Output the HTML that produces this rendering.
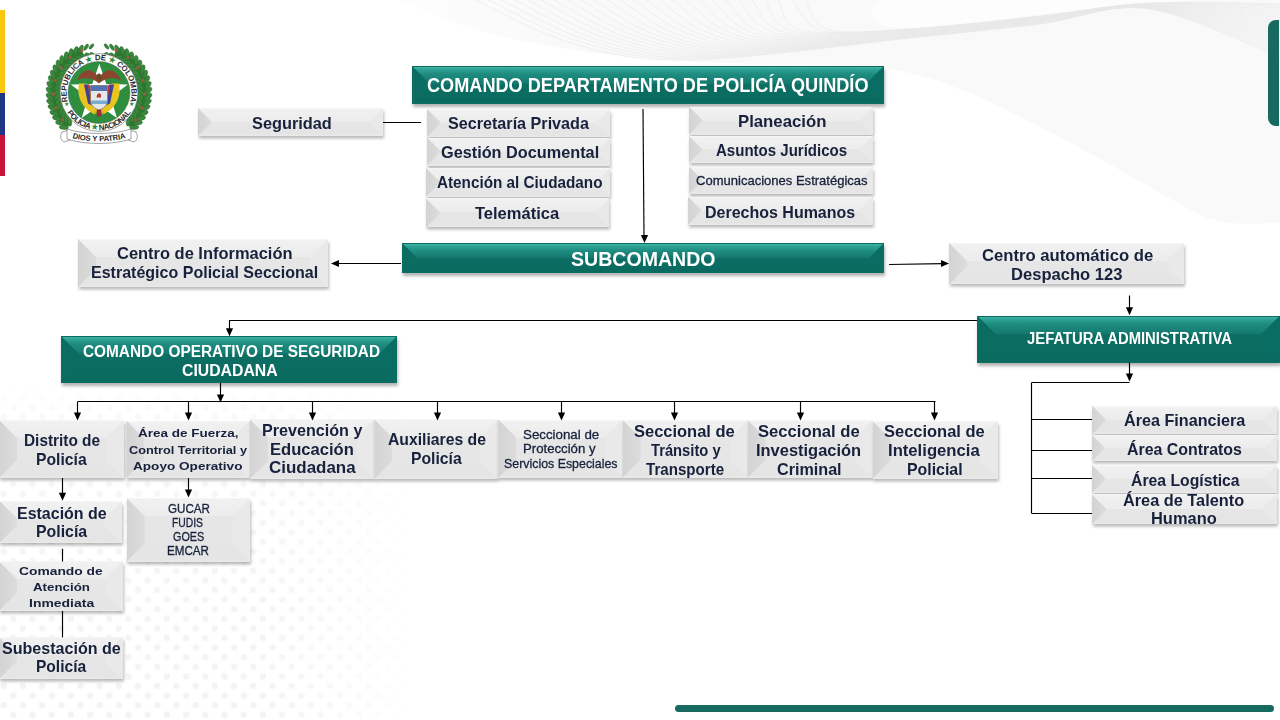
<!DOCTYPE html>
<html><head><meta charset="utf-8"><style>
*{margin:0;padding:0;box-sizing:border-box}
html,body{width:1280px;height:720px;overflow:hidden;background:#fff}
body{position:relative;font-family:"Liberation Sans",sans-serif}
.bx{position:absolute}
.tx{position:absolute;white-space:nowrap;transform-origin:0 0;z-index:4}
.bx::before,.bx::after{content:"";position:absolute;top:0;bottom:0;width:var(--b)}
.bx::before{left:0;clip-path:polygon(0 0,100% var(--b),100% calc(100% - var(--b)),0 100%)}
.bx::after{right:0;clip-path:polygon(100% 0,0 var(--b),0 calc(100% - var(--b)),100% 100%)}
.g{background:linear-gradient(to bottom,#f8f8f8 0,#f1f1f1 1.5px,#ececec var(--b),#e6e6e6 var(--b),#e5e5e5 calc(100% - 2px),#ebebeb 100%);
 box-shadow:1px 2.5px 3px rgba(0,0,0,.28)}
.g::before{background:linear-gradient(to right,#d3d3d3,#dcdcdc)}
.g::after{background:#e9e9e9}
.t{background:linear-gradient(to bottom,#0f6a60 0,#0f6a60 1px,#3bb5a7 1px,#2ea194 3.5px,#1f8c80 8px,#14796e var(--b),#0d6e64 var(--b),#096a60 calc(100% - 2px),#0d6e64 100%);
 box-shadow:1px 3px 3px rgba(0,0,0,.3)}
.t::before{background:#0b6c62}
.t::after{background:#0a6d63}
#lines{position:absolute;left:0;top:0;z-index:3}
#lines line{stroke:#000;stroke-width:1.15}
#lines polygon{fill:#000}
.flag{position:absolute;left:0;width:4.8px}
</style></head><body>
<svg style="position:absolute;left:0;top:0" width="1280" height="720" viewBox="0 0 1280 720">
<defs><pattern id="dots" x="0" y="0" width="19.2" height="19.2" patternUnits="userSpaceOnUse"><circle cx="3.7" cy="14" r="3.2" fill="#f3f3f3"/><circle cx="13.3" cy="4.4" r="3.2" fill="#f3f3f3"/></pattern><linearGradient id="fx" x1="0" y1="0" x2="1" y2="0"><stop offset="0" stop-color="#fff"/><stop offset="0.62" stop-color="#fff"/><stop offset="1" stop-color="#fff" stop-opacity="0"/></linearGradient><linearGradient id="fy" x1="0" y1="0" x2="0" y2="1"><stop offset="0" stop-color="#fff" stop-opacity="0"/><stop offset="0.15" stop-color="#fff" stop-opacity="0.7"/><stop offset="1" stop-color="#fff"/></linearGradient><mask id="mx" maskUnits="userSpaceOnUse" x="0" y="380" width="420" height="340"><rect x="0" y="380" width="420" height="340" fill="url(#fx)"/></mask><mask id="my" maskUnits="userSpaceOnUse" x="0" y="380" width="420" height="340"><rect x="0" y="380" width="420" height="340" fill="url(#fy)"/></mask><linearGradient id="gg" x1="330" y1="0" x2="600" y2="0" gradientUnits="userSpaceOnUse"><stop offset="0" stop-color="#f7f7f7" stop-opacity="0"/><stop offset="1" stop-color="#f9f9f9"/></linearGradient></defs>
<g mask="url(#my)"><rect x="0" y="380" width="420" height="340" fill="url(#dots)" mask="url(#mx)"/></g>
<path d="M400,0 C480,40 600,62 760,64 C860,65 900,60 990,102 C1080,145 1150,188 1200,215 C1225,226 1255,225 1280,222 L1280,0 Z" fill="url(#gg)"/>
<path d="M880,0 L1200,0 C1100,6 1000,20 920,28 C880,30 860,20 880,0Z" fill="#fdfdfd"/>
<path d="M467.0,-4.0 C468.3,-3.3 457.4,-7.9 475.0,0.0 C492.6,7.9 536.7,33.2 572.5,43.2 C608.3,53.2 632.1,61.0 690.0,60.0 C747.9,59.0 861.7,43.0 920.0,37.0 C978.3,31.0 1001.7,28.7 1040.0,24.0 C1078.3,19.3 1108.3,2.7 1150.0,9.0 C1191.7,15.3 1266.7,53.2 1290.0,62.0" fill="none" stroke="#e7e7e7" stroke-width="0.6"/>
<path d="M480.2,-4.0 C481.5,-3.3 471.2,-7.7 488.2,0.0 C505.1,7.7 547.3,32.5 581.9,42.3 C616.5,52.1 639.2,59.7 695.6,58.8 C752.0,57.9 862.6,42.5 920.0,36.6 C977.4,30.8 1001.7,28.3 1040.0,23.7 C1078.3,19.0 1108.3,2.8 1150.0,8.8 C1191.7,14.7 1266.7,50.8 1290.0,59.2" fill="none" stroke="#e7e7e7" stroke-width="0.6"/>
<path d="M493.4,-4.0 C494.7,-3.3 485.1,-7.6 501.4,0.0 C517.7,7.6 558.0,31.9 591.3,41.5 C624.6,51.1 646.4,58.5 701.2,57.6 C756.0,56.7 863.5,42.0 920.0,36.3 C976.5,30.6 1001.7,28.0 1040.0,23.4 C1078.3,18.7 1108.3,3.0 1150.0,8.5 C1191.7,14.0 1266.7,48.5 1290.0,56.5" fill="none" stroke="#e7e7e7" stroke-width="0.6"/>
<path d="M506.6,-4.0 C507.9,-3.3 498.9,-7.4 514.6,0.0 C530.3,7.4 568.7,31.2 600.7,40.6 C632.7,50.0 653.6,57.2 706.8,56.4 C760.0,55.6 864.5,41.5 920.0,35.9 C975.5,30.4 1001.7,27.6 1040.0,23.0 C1078.3,18.4 1108.3,3.2 1150.0,8.3 C1191.7,13.4 1266.7,46.2 1290.0,53.8" fill="none" stroke="#e7e7e7" stroke-width="0.6"/>
<path d="M519.8,-4.0 C521.1,-3.3 512.8,-7.3 527.8,0.0 C542.8,7.3 579.3,30.5 610.1,39.7 C640.9,48.9 660.8,55.9 712.4,55.2 C764.0,54.5 865.4,41.0 920.0,35.6 C974.6,30.1 1001.7,27.3 1040.0,22.7 C1078.3,18.1 1108.3,3.3 1150.0,8.0 C1191.7,12.8 1266.7,43.9 1290.0,51.1" fill="none" stroke="#e7e7e7" stroke-width="0.6"/>
<path d="M533.0,-4.0 C534.3,-3.3 526.6,-7.1 541.0,0.0 C555.4,7.1 590.0,29.9 619.5,38.9 C649.0,47.9 667.9,54.6 718.0,54.0 C768.1,53.4 866.3,40.5 920.0,35.2 C973.7,29.9 1001.7,27.0 1040.0,22.4 C1078.3,17.8 1108.3,3.5 1150.0,7.8 C1191.7,12.1 1266.7,41.6 1290.0,48.4" fill="none" stroke="#e7e7e7" stroke-width="0.6"/>
<path d="M546.2,-4.0 C547.5,-3.3 540.4,-7.0 554.2,0.0 C568.0,7.0 600.7,29.2 628.9,38.0 C657.1,46.8 675.1,53.3 723.6,52.8 C772.1,52.3 867.3,40.0 920.0,34.8 C972.7,29.7 1001.7,26.6 1040.0,22.1 C1078.3,17.5 1108.3,3.6 1150.0,7.6 C1191.7,11.5 1266.7,39.4 1290.0,45.7" fill="none" stroke="#e7e7e7" stroke-width="0.6"/>
<path d="M559.4,-4.0 C560.7,-3.3 554.2,-6.9 567.4,0.0 C580.5,6.9 611.3,28.6 638.3,37.2 C665.3,45.8 682.2,52.0 729.2,51.6 C776.2,51.2 868.2,39.5 920.0,34.5 C971.8,29.5 1001.7,26.3 1040.0,21.8 C1078.3,17.2 1108.3,3.8 1150.0,7.3 C1191.7,10.9 1266.7,37.1 1290.0,43.1" fill="none" stroke="#e7e7e7" stroke-width="0.6"/>
<path d="M572.6,-4.0 C573.9,-3.3 568.1,-6.7 580.6,0.0 C593.1,6.7 622.0,27.9 647.7,36.3 C673.4,44.7 689.4,50.8 734.8,50.4 C780.2,50.0 869.1,38.9 920.0,34.1 C970.9,29.3 1001.7,25.9 1040.0,21.4 C1078.3,16.9 1108.3,3.9 1150.0,7.1 C1191.7,10.3 1266.7,34.9 1290.0,40.5" fill="none" stroke="#e7e7e7" stroke-width="0.6"/>
<path d="M585.8,-4.0 C587.1,-3.3 581.9,-6.6 593.8,0.0 C605.7,6.6 632.7,27.2 657.1,35.4 C681.5,43.6 696.6,49.5 740.4,49.2 C784.2,48.9 870.1,38.4 920.0,33.8 C969.9,29.1 1001.7,25.6 1040.0,21.1 C1078.3,16.6 1108.3,4.0 1150.0,6.8 C1191.7,9.6 1266.7,32.8 1290.0,38.0" fill="none" stroke="#e7e7e7" stroke-width="0.6"/>
<path d="M599.0,-4.0 C600.3,-3.3 595.8,-6.4 607.0,0.0 C618.2,6.4 643.3,26.6 666.5,34.6 C689.7,42.6 703.8,48.2 746.0,48.0 C788.2,47.8 871.0,37.9 920.0,33.4 C969.0,28.9 1001.7,25.3 1040.0,20.8 C1078.3,16.3 1108.3,4.2 1150.0,6.6 C1191.7,9.0 1266.7,30.6 1290.0,35.4" fill="none" stroke="#e7e7e7" stroke-width="0.6"/>
<path d="M612.2,-4.0 C613.5,-3.3 609.6,-6.3 620.2,0.0 C630.8,6.3 654.0,25.9 675.9,33.7 C697.8,41.5 710.9,46.9 751.6,46.8 C792.3,46.7 871.9,37.4 920.0,33.0 C968.1,28.7 1001.7,24.9 1040.0,20.5 C1078.3,16.0 1108.3,4.3 1150.0,6.4 C1191.7,8.4 1266.7,28.5 1290.0,32.9" fill="none" stroke="#e7e7e7" stroke-width="0.6"/>
<path d="M625.4,-4.0 C626.7,-3.3 623.4,-6.1 633.4,0.0 C643.4,6.1 664.7,25.2 685.3,32.8 C705.9,40.4 718.1,45.6 757.2,45.6 C796.3,45.6 872.9,36.9 920.0,32.7 C967.1,28.4 1001.7,24.6 1040.0,20.2 C1078.3,15.7 1108.3,4.4 1150.0,6.1 C1191.7,7.8 1266.7,26.4 1290.0,30.5" fill="none" stroke="#e7e7e7" stroke-width="0.6"/>
<path d="M638.6,-4.0 C639.9,-3.3 637.2,-6.0 646.6,0.0 C656.0,6.0 675.3,24.6 694.7,32.0 C714.1,39.4 725.2,44.3 762.8,44.4 C800.3,44.5 873.8,36.4 920.0,32.3 C966.2,28.2 1001.7,24.2 1040.0,19.8 C1078.3,15.4 1108.3,4.5 1150.0,5.9 C1191.7,7.2 1266.7,24.3 1290.0,28.0" fill="none" stroke="#e7e7e7" stroke-width="0.6"/>
<path d="M651.8,-4.0 C653.1,-3.3 651.1,-5.9 659.8,0.0 C668.5,5.9 686.0,23.9 704.1,31.1 C722.2,38.3 732.4,43.1 768.4,43.2 C804.4,43.3 874.7,35.9 920.0,32.0 C965.3,28.0 1001.7,23.9 1040.0,19.5 C1078.3,15.1 1108.3,4.6 1150.0,5.6 C1191.7,6.7 1266.7,22.3 1290.0,25.7" fill="none" stroke="#e7e7e7" stroke-width="0.6"/>
<path d="M665.0,-4.0 C666.3,-3.3 664.9,-5.7 673.0,0.0 C681.1,5.7 696.7,23.2 713.5,30.2 C730.3,37.2 739.6,41.8 774.0,42.0 C808.4,42.2 875.7,35.4 920.0,31.6 C964.3,27.8 1001.7,23.6 1040.0,19.2 C1078.3,14.8 1108.3,4.7 1150.0,5.4 C1191.7,6.1 1266.7,20.3 1290.0,23.3" fill="none" stroke="#e7e7e7" stroke-width="0.6"/>
<path d="M678.2,-4.0 C679.5,-3.3 678.8,-5.6 686.2,0.0 C693.7,5.6 707.3,22.6 722.9,29.4 C738.5,36.2 746.8,40.5 779.6,40.8 C812.5,41.1 876.6,34.9 920.0,31.2 C963.4,27.6 1001.7,23.2 1040.0,18.9 C1078.3,14.5 1108.3,4.8 1150.0,5.2 C1191.7,5.5 1266.7,18.4 1290.0,21.0" fill="none" stroke="#e7e7e7" stroke-width="0.6"/>
<path d="M691.4,-4.0 C692.7,-3.3 692.6,-5.4 699.4,0.0 C706.2,5.4 718.0,21.9 732.3,28.5 C746.6,35.1 753.9,39.2 785.2,39.6 C816.5,40.0 877.5,34.4 920.0,30.9 C962.5,27.4 1001.7,22.9 1040.0,18.6 C1078.3,14.2 1108.3,4.9 1150.0,4.9 C1191.7,5.0 1266.7,16.5 1290.0,18.8" fill="none" stroke="#e7e7e7" stroke-width="0.6"/>
<path d="M704.6,-4.0 C705.9,-3.3 706.4,-5.3 712.6,0.0 C718.8,5.3 728.7,21.2 741.7,27.6 C754.7,34.0 761.1,37.9 790.8,38.4 C820.5,38.9 878.5,33.9 920.0,30.5 C961.5,27.2 1001.7,22.5 1040.0,18.2 C1078.3,13.9 1108.3,5.0 1150.0,4.7 C1191.7,4.4 1266.7,14.6 1290.0,16.6" fill="none" stroke="#e7e7e7" stroke-width="0.6"/>
<path d="M717.8,-4.0 C719.1,-3.3 720.2,-5.1 725.8,0.0 C731.3,5.1 739.3,20.6 751.1,26.8 C762.9,33.0 768.2,36.6 796.4,37.2 C824.5,37.8 879.4,33.4 920.0,30.2 C960.6,26.9 1001.7,22.2 1040.0,17.9 C1078.3,13.6 1108.3,5.0 1150.0,4.4 C1191.7,3.9 1266.7,12.8 1290.0,14.5" fill="none" stroke="#e7e7e7" stroke-width="0.6"/>
<path d="M731.0,-4.0 C732.3,-3.3 734.1,-5.0 739.0,0.0 C743.9,5.0 750.0,19.9 760.5,25.9 C771.0,31.9 775.4,35.4 802.0,36.0 C828.6,36.6 880.3,32.9 920.0,29.8 C959.7,26.7 1001.7,21.9 1040.0,17.6 C1078.3,13.3 1108.3,5.1 1150.0,4.2 C1191.7,3.3 1266.7,11.0 1290.0,12.4" fill="none" stroke="#e7e7e7" stroke-width="0.6"/>
<path d="M744.2,-4.0 C745.5,-3.3 747.9,-4.8 752.2,0.0 C756.5,4.8 760.7,19.3 769.9,25.1 C779.1,30.9 782.6,34.1 807.6,34.8 C832.6,35.5 881.3,32.4 920.0,29.4 C958.7,26.5 1001.7,21.5 1040.0,17.3 C1078.3,13.0 1108.3,5.1 1150.0,4.0 C1191.7,2.8 1266.7,9.4 1290.0,10.4" fill="none" stroke="#e7e7e7" stroke-width="0.6"/>
<path d="M757.4,-4.0 C758.7,-3.3 761.8,-4.7 765.4,0.0 C769.0,4.7 771.3,18.6 779.3,24.2 C787.3,29.8 789.8,32.8 813.2,33.6 C836.7,34.4 882.2,31.9 920.0,29.1 C957.8,26.3 1001.7,21.2 1040.0,17.0 C1078.3,12.7 1108.3,5.1 1150.0,3.7 C1191.7,2.3 1266.7,7.7 1290.0,8.6" fill="none" stroke="#e7e7e7" stroke-width="0.6"/>
<path d="M770.6,-4.0 C771.9,-3.3 775.6,-4.6 778.6,0.0 C781.6,4.6 782.0,17.9 788.7,23.3 C795.4,28.7 796.9,31.5 818.8,32.4 C840.7,33.3 883.1,31.3 920.0,28.7 C956.9,26.1 1001.7,20.8 1040.0,16.6 C1078.3,12.4 1108.3,5.1 1150.0,3.5 C1191.7,1.8 1266.7,6.2 1290.0,6.8" fill="none" stroke="#e7e7e7" stroke-width="0.6"/>
<path d="M783.8,-4.0 C785.1,-3.3 785.0,-5.9 791.8,0.0 C798.6,5.9 803.0,26.5 824.4,31.2 C845.8,35.9 884.1,30.8 920.0,28.4 C955.9,25.9 1001.7,20.5 1040.0,16.3 C1078.3,12.1 1108.3,5.1 1150.0,3.2 C1191.7,1.4 1266.7,4.9 1290.0,5.2" fill="none" stroke="#e7e7e7" stroke-width="0.6"/>
<path d="M797.0,-4.0 C798.3,-3.3 799.5,-5.7 805.0,0.0 C810.5,5.7 810.8,25.3 830.0,30.0 C849.2,34.7 885.0,30.3 920.0,28.0 C955.0,25.7 1001.7,20.2 1040.0,16.0 C1078.3,11.8 1108.3,5.0 1150.0,3.0 C1191.7,1.0 1266.7,3.8 1290.0,4.0" fill="none" stroke="#e7e7e7" stroke-width="0.6"/>
</svg>
<div class="flag" style="top:10px;height:83px;background:#f9c80c"></div>
<div class="flag" style="top:92.8px;height:41.8px;background:#1f3586"></div>
<div class="flag" style="top:134.6px;height:41px;background:#c9153a"></div>
<div style="position:absolute;left:1267.5px;top:20px;width:11.5px;height:106px;background:#176a5f;border-radius:8px 0 0 8px"></div>
<div style="position:absolute;left:675px;top:705px;width:599px;height:7.3px;background:#176a5f;border-radius:4px"></div>
<svg style="position:absolute;left:40px;top:36px" width="120" height="114" viewBox="0 0 120 114">
<defs><path id="ta" d="M 34.18 77.33 A 32.4 32.4 0 1 1 83.82 77.33"/><path id="tb" d="M 21.97 63.03 A 37.6 37.6 0 0 0 96.03 63.03"/></defs>
<g fill="none" stroke="#2f7a33" stroke-width="8.5"><path d="M42.22,14.96 A45.3 45.3 0 0 0 28.69,90.16" /><path d="M75.78,14.96 A45.3 45.3 0 0 1 89.31,90.16" /></g>
<g fill="#3a873c" stroke="#23652a" stroke-width=".4"><ellipse cx="51.46" cy="10.46" rx="3.22" ry="1.47" transform="rotate(130.7 51.46 10.46)"/><ellipse cx="52.79" cy="18.55" rx="3.22" ry="1.47" transform="rotate(210.7 52.79 18.55)"/><ellipse cx="46.09" cy="11.19" rx="3.56" ry="1.63" transform="rotate(124.1 46.09 11.19)"/><ellipse cx="48.34" cy="19.08" rx="3.56" ry="1.63" transform="rotate(204.1 48.34 19.08)"/><ellipse cx="40.79" cy="12.55" rx="3.91" ry="1.78" transform="rotate(117.5 40.79 12.55)"/><ellipse cx="43.93" cy="20.12" rx="3.91" ry="1.78" transform="rotate(197.5 43.93 20.12)"/><ellipse cx="35.64" cy="14.53" rx="4.25" ry="1.94" transform="rotate(110.9 35.64 14.53)"/><ellipse cx="39.63" cy="21.69" rx="4.25" ry="1.94" transform="rotate(190.9 39.63 21.69)"/><ellipse cx="30.70" cy="17.11" rx="4.60" ry="2.10" transform="rotate(104.3 30.70 17.11)"/><ellipse cx="35.48" cy="23.77" rx="4.60" ry="2.10" transform="rotate(184.3 35.48 23.77)"/><ellipse cx="26.05" cy="20.29" rx="4.60" ry="2.10" transform="rotate(97.7 26.05 20.29)"/><ellipse cx="31.57" cy="26.35" rx="4.60" ry="2.10" transform="rotate(177.7 31.57 26.35)"/><ellipse cx="21.76" cy="24.01" rx="4.60" ry="2.10" transform="rotate(91.1 21.76 24.01)"/><ellipse cx="27.94" cy="29.40" rx="4.60" ry="2.10" transform="rotate(171.1 27.94 29.40)"/><ellipse cx="18.21" cy="28.46" rx="4.60" ry="2.10" transform="rotate(84.5 18.21 28.46)"/><ellipse cx="24.96" cy="33.11" rx="4.60" ry="2.10" transform="rotate(164.5 24.96 33.11)"/><ellipse cx="15.25" cy="33.34" rx="4.60" ry="2.10" transform="rotate(77.9 15.25 33.34)"/><ellipse cx="22.50" cy="37.17" rx="4.60" ry="2.10" transform="rotate(157.9 22.50 37.17)"/><ellipse cx="12.88" cy="38.52" rx="4.60" ry="2.10" transform="rotate(71.3 12.88 38.52)"/><ellipse cx="20.52" cy="41.50" rx="4.60" ry="2.10" transform="rotate(151.3 20.52 41.50)"/><ellipse cx="11.12" cy="43.94" rx="4.60" ry="2.10" transform="rotate(64.7 11.12 43.94)"/><ellipse cx="19.05" cy="46.02" rx="4.60" ry="2.10" transform="rotate(144.7 19.05 46.02)"/><ellipse cx="9.99" cy="49.53" rx="4.60" ry="2.10" transform="rotate(58.1 9.99 49.53)"/><ellipse cx="18.11" cy="50.68" rx="4.60" ry="2.10" transform="rotate(138.1 18.11 50.68)"/><ellipse cx="9.52" cy="55.20" rx="4.60" ry="2.10" transform="rotate(51.5 9.52 55.20)"/><ellipse cx="17.71" cy="55.42" rx="4.60" ry="2.10" transform="rotate(131.5 17.71 55.42)"/><ellipse cx="9.70" cy="60.90" rx="4.60" ry="2.10" transform="rotate(44.9 9.70 60.90)"/><ellipse cx="17.86" cy="60.17" rx="4.60" ry="2.10" transform="rotate(124.9 17.86 60.17)"/><ellipse cx="10.53" cy="66.54" rx="4.60" ry="2.10" transform="rotate(38.3 10.53 66.54)"/><ellipse cx="18.56" cy="64.88" rx="4.60" ry="2.10" transform="rotate(118.3 18.56 64.88)"/><ellipse cx="12.00" cy="72.04" rx="4.60" ry="2.10" transform="rotate(31.7 12.00 72.04)"/><ellipse cx="19.79" cy="69.47" rx="4.60" ry="2.10" transform="rotate(111.7 19.79 69.47)"/><ellipse cx="14.10" cy="77.34" rx="4.60" ry="2.10" transform="rotate(25.1 14.10 77.34)"/><ellipse cx="21.54" cy="73.89" rx="4.60" ry="2.10" transform="rotate(105.1 21.54 73.89)"/><ellipse cx="16.79" cy="82.36" rx="4.60" ry="2.10" transform="rotate(18.5 16.79 82.36)"/><ellipse cx="23.79" cy="78.08" rx="4.60" ry="2.10" transform="rotate(98.5 23.79 78.08)"/><ellipse cx="20.05" cy="87.04" rx="4.60" ry="2.10" transform="rotate(11.9 20.05 87.04)"/><ellipse cx="26.50" cy="81.98" rx="4.60" ry="2.10" transform="rotate(91.9 26.50 81.98)"/><ellipse cx="23.82" cy="91.32" rx="4.60" ry="2.10" transform="rotate(5.3 23.82 91.32)"/><ellipse cx="29.64" cy="85.55" rx="4.60" ry="2.10" transform="rotate(85.3 29.64 85.55)"/><ellipse cx="66.54" cy="10.46" rx="3.22" ry="1.47" transform="rotate(49.3 66.54 10.46)"/><ellipse cx="65.21" cy="18.55" rx="3.22" ry="1.47" transform="rotate(-30.7 65.21 18.55)"/><ellipse cx="71.91" cy="11.19" rx="3.56" ry="1.63" transform="rotate(55.9 71.91 11.19)"/><ellipse cx="69.66" cy="19.08" rx="3.56" ry="1.63" transform="rotate(-24.1 69.66 19.08)"/><ellipse cx="77.21" cy="12.55" rx="3.91" ry="1.78" transform="rotate(62.5 77.21 12.55)"/><ellipse cx="74.07" cy="20.12" rx="3.91" ry="1.78" transform="rotate(-17.5 74.07 20.12)"/><ellipse cx="82.36" cy="14.53" rx="4.25" ry="1.94" transform="rotate(69.1 82.36 14.53)"/><ellipse cx="78.37" cy="21.69" rx="4.25" ry="1.94" transform="rotate(-10.9 78.37 21.69)"/><ellipse cx="87.30" cy="17.11" rx="4.60" ry="2.10" transform="rotate(75.7 87.30 17.11)"/><ellipse cx="82.52" cy="23.77" rx="4.60" ry="2.10" transform="rotate(-4.3 82.52 23.77)"/><ellipse cx="91.95" cy="20.29" rx="4.60" ry="2.10" transform="rotate(82.3 91.95 20.29)"/><ellipse cx="86.43" cy="26.35" rx="4.60" ry="2.10" transform="rotate(2.3 86.43 26.35)"/><ellipse cx="96.24" cy="24.01" rx="4.60" ry="2.10" transform="rotate(88.9 96.24 24.01)"/><ellipse cx="90.06" cy="29.40" rx="4.60" ry="2.10" transform="rotate(8.9 90.06 29.40)"/><ellipse cx="99.79" cy="28.46" rx="4.60" ry="2.10" transform="rotate(95.5 99.79 28.46)"/><ellipse cx="93.04" cy="33.11" rx="4.60" ry="2.10" transform="rotate(15.5 93.04 33.11)"/><ellipse cx="102.75" cy="33.34" rx="4.60" ry="2.10" transform="rotate(102.1 102.75 33.34)"/><ellipse cx="95.50" cy="37.17" rx="4.60" ry="2.10" transform="rotate(22.1 95.50 37.17)"/><ellipse cx="105.12" cy="38.52" rx="4.60" ry="2.10" transform="rotate(108.7 105.12 38.52)"/><ellipse cx="97.48" cy="41.50" rx="4.60" ry="2.10" transform="rotate(28.7 97.48 41.50)"/><ellipse cx="106.88" cy="43.94" rx="4.60" ry="2.10" transform="rotate(115.3 106.88 43.94)"/><ellipse cx="98.95" cy="46.02" rx="4.60" ry="2.10" transform="rotate(35.3 98.95 46.02)"/><ellipse cx="108.01" cy="49.53" rx="4.60" ry="2.10" transform="rotate(121.9 108.01 49.53)"/><ellipse cx="99.89" cy="50.68" rx="4.60" ry="2.10" transform="rotate(41.9 99.89 50.68)"/><ellipse cx="108.48" cy="55.20" rx="4.60" ry="2.10" transform="rotate(128.5 108.48 55.20)"/><ellipse cx="100.29" cy="55.42" rx="4.60" ry="2.10" transform="rotate(48.5 100.29 55.42)"/><ellipse cx="108.30" cy="60.90" rx="4.60" ry="2.10" transform="rotate(135.1 108.30 60.90)"/><ellipse cx="100.14" cy="60.17" rx="4.60" ry="2.10" transform="rotate(55.1 100.14 60.17)"/><ellipse cx="107.47" cy="66.54" rx="4.60" ry="2.10" transform="rotate(141.7 107.47 66.54)"/><ellipse cx="99.44" cy="64.88" rx="4.60" ry="2.10" transform="rotate(61.7 99.44 64.88)"/><ellipse cx="106.00" cy="72.04" rx="4.60" ry="2.10" transform="rotate(148.3 106.00 72.04)"/><ellipse cx="98.21" cy="69.47" rx="4.60" ry="2.10" transform="rotate(68.3 98.21 69.47)"/><ellipse cx="103.90" cy="77.34" rx="4.60" ry="2.10" transform="rotate(154.9 103.90 77.34)"/><ellipse cx="96.46" cy="73.89" rx="4.60" ry="2.10" transform="rotate(74.9 96.46 73.89)"/><ellipse cx="101.21" cy="82.36" rx="4.60" ry="2.10" transform="rotate(161.5 101.21 82.36)"/><ellipse cx="94.21" cy="78.08" rx="4.60" ry="2.10" transform="rotate(81.5 94.21 78.08)"/><ellipse cx="97.95" cy="87.04" rx="4.60" ry="2.10" transform="rotate(168.1 97.95 87.04)"/><ellipse cx="91.50" cy="81.98" rx="4.60" ry="2.10" transform="rotate(88.1 91.50 81.98)"/><ellipse cx="94.18" cy="91.32" rx="4.60" ry="2.10" transform="rotate(174.7 94.18 91.32)"/><ellipse cx="88.36" cy="85.55" rx="4.60" ry="2.10" transform="rotate(94.7 88.36 85.55)"/></g>
<g fill="#a05a40"><circle cx="41.96" cy="14.31" r="1.6"/><circle cx="30.06" cy="21.39" r="1.6"/><circle cx="20.84" cy="31.72" r="1.6"/><circle cx="15.15" cy="44.34" r="1.6"/><circle cx="13.53" cy="58.09" r="1.6"/><circle cx="16.11" cy="71.69" r="1.6"/><circle cx="22.66" cy="83.88" r="1.6"/><circle cx="76.04" cy="14.31" r="1.6"/><circle cx="87.94" cy="21.39" r="1.6"/><circle cx="97.16" cy="31.72" r="1.6"/><circle cx="102.85" cy="44.34" r="1.6"/><circle cx="104.47" cy="58.09" r="1.6"/><circle cx="101.89" cy="71.69" r="1.6"/><circle cx="95.34" cy="83.88" r="1.6"/></g>
<circle cx="59" cy="56.5" r="38.9" fill="#fff" stroke="#666" stroke-width=".6"/>
<circle cx="59" cy="56.5" r="31" fill="#2f8d3e" stroke="#666" stroke-width=".5"/>
<g font-family="Liberation Sans" font-weight="700" font-size="7.8" fill="#2a2a2a">
<text><textPath href="#ta" startOffset="50%" text-anchor="middle" textLength="120" lengthAdjust="spacing">REPUBLICA <tspan fill="#2f8d3e">★</tspan> DE <tspan fill="#2f8d3e">★</tspan> COLOMBIA</textPath></text>
<text><textPath href="#tb" startOffset="50%" text-anchor="middle" textLength="76" lengthAdjust="spacing">POLICIA <tspan fill="#2f8d3e">★</tspan> NACIONAL</textPath></text>
</g>
<text x="26.11" y="70.47" font-family="Liberation Sans" font-size="6" fill="#2f8d3e" text-anchor="middle">★</text>
<text x="91.89" y="70.47" font-family="Liberation Sans" font-size="6" fill="#2f8d3e" text-anchor="middle">★</text>
<polygon points="59.30,27.70 66.35,47.99 87.83,48.43 70.71,61.41 76.93,81.97 59.30,69.70 41.67,81.97 47.89,61.41 30.77,48.43 52.25,47.99" fill="#fff"/>
<path d="M37,44.5 C43,30.5 53,32.5 58,40.5 L60,40.5 C65,32.5 75,30.5 81,44.5 C72,39.5 65,42.5 59,47.5 C53,42.5 46,39.5 37,44.5Z" fill="#8c4630"/>
<ellipse cx="59" cy="41.5" rx="2.4" ry="4" fill="#6b4a2a"/>
<path d="M39,47.5 C36,62.5 44,73.5 55,78.5 L54,69.5 C48,64.5 45,56.5 46,47.5Z" fill="#e9c320"/>
<path d="M79,47.5 C82,62.5 74,73.5 63,78.5 L64,69.5 C70,64.5 73,56.5 72,47.5Z" fill="#e9c320"/>
<path d="M44,48.5 L48,48.5 L52,69.5 L48,67.5Z" fill="#3c4196"/>
<path d="M74,48.5 L70,48.5 L66,69.5 L70,67.5Z" fill="#3c4196"/>
<path d="M47.5,48.5 L49.5,48.5 L53,65.5 L51,65.5Z" fill="#b8323a"/>
<path d="M70.5,48.5 L68.5,48.5 L65,65.5 L67,65.5Z" fill="#b8323a"/>
<path d="M50.5,49.5 L67.5,49.5 L67.5,64.5 C67.5,69.5 63,72.5 59,74.5 C55,72.5 50.5,69.5 50.5,64.5Z" fill="#e4e8ee" stroke="#9a7a30" stroke-width=".8"/>
<rect x="50.5" y="49.5" width="17" height="5.5" fill="#5570b0"/>
<path d="M56.5,61.5 C57,55.5 62,56.5 61,61.5Z" fill="#b0402a"/>
<rect x="51" y="64.5" width="16" height="3.5" fill="#7aaad0"/>
<path d="M56.5,73.5 L61.5,73.5 L61,80.5 L57,80.5Z" fill="#a82838"/>
<path d="M53,72.5 L57,73.5 L56,78.5Z" fill="#e9c320"/>
<path d="M65,72.5 L61,73.5 L62,78.5Z" fill="#e9c320"/>
<path d="M22,96 L29,94 L30,104 L24,106 C20,104 20,99 22,96Z" fill="#fff" stroke="#666" stroke-width=".6"/>
<path d="M96,96 L89,94 L88,104 L94,106 C98,104 98,99 96,96Z" fill="#fff" stroke="#666" stroke-width=".6"/>
<path d="M27,93 C45,99 73,99 91,93 L91,103 C73,109 45,109 27,103Z" fill="#fff" stroke="#666" stroke-width=".6"/>
<path id="rb" d="M31,101.5 C46,106.5 72,106.5 87,101.5" fill="none"/>
<text font-family="Liberation Sans" font-weight="700" font-size="7.6" fill="#2b2b2b"><textPath href="#rb" startOffset="50%" text-anchor="middle" textLength="54" lengthAdjust="spacing">DIOS Y PATRIA</textPath></text>
</svg>
<div class="bx t" style="left:412px;top:66px;width:472px;height:38px;--b:18.00px;"></div><div class="bx g" style="left:198px;top:108px;width:185px;height:28px;--b:14.00px;"></div><div class="bx g" style="left:427px;top:109px;width:183px;height:28px;--b:14.00px;"></div><div class="bx g" style="left:427px;top:137.5px;width:183px;height:28px;--b:14.00px;"></div><div class="bx g" style="left:426px;top:168px;width:184px;height:28.6px;--b:14.30px;"></div><div class="bx g" style="left:426px;top:198.4px;width:183px;height:29px;--b:14.50px;"></div><div class="bx g" style="left:689px;top:106.6px;width:184px;height:28px;--b:14.00px;"></div><div class="bx g" style="left:689px;top:136px;width:184px;height:27px;--b:13.50px;"></div><div class="bx g" style="left:689px;top:166.6px;width:184px;height:27.2px;--b:13.60px;"></div><div class="bx g" style="left:688px;top:196.6px;width:185px;height:28px;--b:14.00px;"></div><div class="bx g" style="left:78px;top:239px;width:250px;height:48px;--b:18.00px;"></div><div class="bx t" style="left:402px;top:243px;width:482px;height:29.5px;--b:14.75px;"></div><div class="bx g" style="left:949px;top:243px;width:235.4px;height:41.4px;--b:18.00px;"></div><div class="bx t" style="left:977px;top:315.5px;width:303px;height:47px;--b:18.00px;"></div><div class="bx t" style="left:61px;top:336px;width:336px;height:47px;--b:18.00px;"></div><div class="bx g" style="left:1092px;top:405.6px;width:184.7px;height:28.8px;--b:14.40px;"></div><div class="bx g" style="left:1092px;top:434.9px;width:184.7px;height:26.1px;--b:13.05px;"></div><div class="bx g" style="left:1092px;top:465px;width:184.7px;height:27.7px;--b:13.85px;"></div><div class="bx g" style="left:1092px;top:494.4px;width:184.7px;height:30px;--b:15.00px;"></div><div class="bx g" style="left:-1px;top:420px;width:124.75px;height:58px;--b:18.00px;"></div><div class="bx g" style="left:126.3px;top:420.5px;width:123.7px;height:57.5px;--b:18.00px;"></div><div class="bx g" style="left:250px;top:419.4px;width:124.4px;height:59.3px;--b:18.00px;"></div><div class="bx g" style="left:374.4px;top:419.4px;width:123.7px;height:59.3px;--b:18.00px;"></div><div class="bx g" style="left:498.2px;top:419.5px;width:124.4px;height:58.5px;--b:18.00px;"></div><div class="bx g" style="left:622.5px;top:420px;width:125px;height:57.8px;--b:18.00px;"></div><div class="bx g" style="left:747.5px;top:420px;width:125px;height:58px;--b:18.00px;"></div><div class="bx g" style="left:872.5px;top:421px;width:125px;height:57.8px;--b:18.00px;"></div><div class="bx g" style="left:-1px;top:500.6px;width:123.2px;height:42.7px;--b:18.00px;"></div><div class="bx g" style="left:126.5px;top:498px;width:123.8px;height:63.7px;--b:18.00px;"></div><div class="bx g" style="left:-1px;top:561.2px;width:124px;height:49.8px;--b:18.00px;"></div><div class="bx g" style="left:-1px;top:637.2px;width:123.5px;height:41.8px;--b:18.00px;"></div>
<svg id="lines" width="1280" height="720" viewBox="0 0 1280 720">
<line x1="383" y1="122.5" x2="421" y2="122.5"/>
<line x1="643" y1="109" x2="644" y2="237"/>
<line x1="401" y1="263.5" x2="337" y2="263.5"/>
<line x1="889" y1="264.5" x2="943" y2="263.6"/>
<line x1="1129.5" y1="295.5" x2="1129.5" y2="309"/>
<line x1="977" y1="320.5" x2="229" y2="320.5"/>
<line x1="229.5" y1="320.3" x2="229.5" y2="330"/>
<line x1="220.5" y1="383" x2="220.5" y2="396"/>
<line x1="77.5" y1="401.5" x2="935.5" y2="401.5"/>
<line x1="1129.5" y1="362.5" x2="1129.5" y2="375"/>
<line x1="1032" y1="382.5" x2="1129.5" y2="382.5"/>
<line x1="1031.5" y1="382.3" x2="1031.5" y2="513.5"/>
<line x1="1031.7" y1="419.5" x2="1092" y2="419.5"/>
<line x1="1031.7" y1="450.5" x2="1092" y2="450.5"/>
<line x1="1031.7" y1="478.5" x2="1092" y2="478.5"/>
<line x1="1031.7" y1="513.5" x2="1092" y2="513.5"/>
<line x1="62.5" y1="478" x2="62.5" y2="494"/>
<line x1="62.5" y1="548.8" x2="62.5" y2="561.5"/>
<line x1="62.5" y1="611" x2="62.5" y2="637.4"/>
<line x1="188.5" y1="478" x2="188.5" y2="491"/>
<line x1="77.5" y1="401.7" x2="77.5" y2="414"/>
<line x1="188.5" y1="401.7" x2="188.5" y2="414"/>
<line x1="312.5" y1="401.7" x2="312.5" y2="414"/>
<line x1="437.5" y1="401.7" x2="437.5" y2="414"/>
<line x1="561.5" y1="401.7" x2="561.5" y2="414"/>
<line x1="674.5" y1="401.7" x2="674.5" y2="414"/>
<line x1="800.5" y1="401.7" x2="800.5" y2="414"/>
<line x1="934.5" y1="401.7" x2="934.5" y2="414"/>
<polygon points="644.5,243 640.9,235 648.1,235"/>
<polygon points="331,263.5 339,259.9 339,267.1"/>
<polygon points="949,263.5 941,259.9 941,267.1"/>
<polygon points="1129.5,315.3 1125.9,307.3 1133.1,307.3"/>
<polygon points="229.5,336.3 225.9,328.3 233.1,328.3"/>
<polygon points="220.5,402.5 216.9,394.5 224.1,394.5"/>
<polygon points="1129.5,381.5 1125.9,373.5 1133.1,373.5"/>
<polygon points="62.5,500.8 58.9,492.8 66.1,492.8"/>
<polygon points="188.5,497.5 184.9,489.5 192.1,489.5"/>
<polygon points="77.5,420.5 73.9,412.5 81.1,412.5"/>
<polygon points="188.5,420.5 184.9,412.5 192.1,412.5"/>
<polygon points="312.5,420.5 308.9,412.5 316.1,412.5"/>
<polygon points="437.5,420.5 433.9,412.5 441.1,412.5"/>
<polygon points="561.5,420.5 557.9,412.5 565.1,412.5"/>
<polygon points="674.5,420.5 670.9,412.5 678.1,412.5"/>
<polygon points="800.5,420.5 796.9,412.5 804.1,412.5"/>
<polygon points="934.5,420.5 930.9,412.5 938.1,412.5"/>
</svg>
<div class="tx" style="left:427.10px;top:74.70px;font-size:20px;line-height:20px;font-weight:700;transform:scaleX(0.9065);color:#fff">COMANDO DEPARTAMENTO DE POLICÍA QUINDÍO</div><div class="tx" style="left:251.50px;top:114.80px;font-size:16.4px;line-height:16.4px;font-weight:700;transform:scaleX(0.9958);color:#17213b">Seguridad</div><div class="tx" style="left:448.00px;top:114.90px;font-size:16.4px;line-height:16.4px;font-weight:700;transform:scaleX(0.9851);color:#17213b">Secretaría Privada</div><div class="tx" style="left:440.60px;top:143.70px;font-size:16.4px;line-height:16.4px;font-weight:700;transform:scaleX(0.9923);color:#17213b">Gestión Documental</div><div class="tx" style="left:436.90px;top:173.80px;font-size:16.4px;line-height:16.4px;font-weight:700;transform:scaleX(0.9321);color:#17213b">Atención al Ciudadano</div><div class="tx" style="left:475.30px;top:204.60px;font-size:16.4px;line-height:16.4px;font-weight:700;transform:scaleX(1.0071);color:#17213b">Telemática</div><div class="tx" style="left:737.98px;top:113.20px;font-size:16.4px;line-height:16.4px;font-weight:700;transform:scaleX(1.0210);color:#17213b">Planeación</div><div class="tx" style="left:716.00px;top:141.90px;font-size:16.4px;line-height:16.4px;font-weight:700;transform:scaleX(0.9169);color:#17213b">Asuntos Jurídicos</div><div class="tx" style="left:695.60px;top:174.00px;font-size:13px;line-height:13px;font-weight:400;transform:scaleX(1.0021);color:#17213b;-webkit-text-stroke:0.3px #17213b">Comunicaciones Estratégicas</div><div class="tx" style="left:704.72px;top:203.70px;font-size:16.4px;line-height:16.4px;font-weight:700;transform:scaleX(0.9757);color:#17213b">Derechos Humanos</div><div class="tx" style="left:116.50px;top:244.70px;font-size:16.4px;line-height:16.4px;font-weight:700;transform:scaleX(1.0038);color:#17213b">Centro de Información</div>
<div class="tx" style="left:90.92px;top:263.90px;font-size:16.4px;line-height:16.4px;font-weight:700;transform:scaleX(0.9777);color:#17213b">Estratégico Policial Seccional</div><div class="tx" style="left:570.60px;top:249.60px;font-size:19.3px;line-height:19.3px;font-weight:700;transform:scaleX(1.0143);color:#fff">SUBCOMANDO</div><div class="tx" style="left:981.60px;top:247.00px;font-size:16.4px;line-height:16.4px;font-weight:700;transform:scaleX(1.0163);color:#17213b">Centro automático de</div>
<div class="tx" style="left:1011.49px;top:265.70px;font-size:16.4px;line-height:16.4px;font-weight:700;transform:scaleX(1.0108);color:#17213b">Despacho 123</div><div class="tx" style="left:1026.90px;top:331.40px;font-size:16.8px;line-height:16.8px;font-weight:700;transform:scaleX(0.8839);color:#fff">JEFATURA ADMINISTRATIVA</div><div class="tx" style="left:82.50px;top:344.00px;font-size:16.8px;line-height:16.8px;font-weight:700;transform:scaleX(0.9163);color:#fff">COMANDO OPERATIVO DE SEGURIDAD</div>
<div class="tx" style="left:182.00px;top:362.70px;font-size:16.8px;line-height:16.8px;font-weight:700;transform:scaleX(0.9409);color:#fff">CIUDADANA</div><div class="tx" style="left:1124.00px;top:411.60px;font-size:16.4px;line-height:16.4px;font-weight:700;transform:scaleX(0.9865);color:#17213b">Área Financiera</div><div class="tx" style="left:1127.00px;top:440.90px;font-size:16.4px;line-height:16.4px;font-weight:700;transform:scaleX(0.9705);color:#17213b">Área Contratos</div><div class="tx" style="left:1131.00px;top:471.60px;font-size:16.4px;line-height:16.4px;font-weight:700;transform:scaleX(0.9610);color:#17213b">Área Logística</div><div class="tx" style="left:1123.30px;top:492.00px;font-size:16.4px;line-height:16.4px;font-weight:700;transform:scaleX(0.9948);color:#17213b">Área de Talento</div>
<div class="tx" style="left:1151.00px;top:510.40px;font-size:16.4px;line-height:16.4px;font-weight:700;transform:scaleX(1.0023);color:#17213b">Humano</div><div class="tx" style="left:23.56px;top:431.50px;font-size:16.4px;line-height:16.4px;font-weight:700;transform:scaleX(0.9383);color:#17213b">Distrito de</div>
<div class="tx" style="left:36.04px;top:450.50px;font-size:16.4px;line-height:16.4px;font-weight:700;transform:scaleX(0.9579);color:#17213b">Policía</div><div class="tx" style="left:137.90px;top:428.30px;font-size:11.8px;line-height:11.8px;font-weight:700;transform:scaleX(1.1441);color:#17213b">Área de Fuerza,</div>
<div class="tx" style="left:129.00px;top:444.50px;font-size:11.8px;line-height:11.8px;font-weight:700;transform:scaleX(1.0804);color:#17213b">Control Territorial y</div>
<div class="tx" style="left:133.40px;top:460.60px;font-size:11.8px;line-height:11.8px;font-weight:700;transform:scaleX(1.1514);color:#17213b">Apoyo Operativo</div><div class="tx" style="left:261.52px;top:422.30px;font-size:16.4px;line-height:16.4px;font-weight:700;transform:scaleX(0.9841);color:#17213b">Prevención y</div>
<div class="tx" style="left:270.24px;top:441.00px;font-size:16.4px;line-height:16.4px;font-weight:700;transform:scaleX(1.0109);color:#17213b">Educación</div>
<div class="tx" style="left:268.75px;top:459.10px;font-size:16.4px;line-height:16.4px;font-weight:700;transform:scaleX(1.0334);color:#17213b">Ciudadana</div><div class="tx" style="left:388.40px;top:431.40px;font-size:16.4px;line-height:16.4px;font-weight:700;transform:scaleX(0.9601);color:#17213b">Auxiliares de</div>
<div class="tx" style="left:410.94px;top:450.20px;font-size:16.4px;line-height:16.4px;font-weight:700;transform:scaleX(0.9598);color:#17213b">Policía</div><div class="tx" style="left:522.50px;top:428.00px;font-size:13px;line-height:13px;font-weight:400;transform:scaleX(1.0241);color:#17213b;-webkit-text-stroke:0.3px #17213b">Seccional de</div>
<div class="tx" style="left:523.49px;top:442.00px;font-size:13px;line-height:13px;font-weight:400;transform:scaleX(1.0136);color:#17213b;-webkit-text-stroke:0.3px #17213b">Protección y</div>
<div class="tx" style="left:503.50px;top:456.50px;font-size:13px;line-height:13px;font-weight:400;transform:scaleX(0.9523);color:#17213b;-webkit-text-stroke:0.3px #17213b">Servicios Especiales</div><div class="tx" style="left:634.40px;top:423.20px;font-size:16.4px;line-height:16.4px;font-weight:700;transform:scaleX(1.0051);color:#17213b">Seccional de</div>
<div class="tx" style="left:650.60px;top:442.00px;font-size:16.4px;line-height:16.4px;font-weight:700;transform:scaleX(0.8990);color:#17213b">Tránsito y</div>
<div class="tx" style="left:646.00px;top:460.70px;font-size:16.4px;line-height:16.4px;font-weight:700;transform:scaleX(0.9221);color:#17213b">Transporte</div><div class="tx" style="left:758.40px;top:423.20px;font-size:16.4px;line-height:16.4px;font-weight:700;transform:scaleX(1.0151);color:#17213b">Seccional de</div>
<div class="tx" style="left:755.90px;top:442.00px;font-size:16.4px;line-height:16.4px;font-weight:700;transform:scaleX(1.0036);color:#17213b">Investigación</div>
<div class="tx" style="left:777.20px;top:460.70px;font-size:16.4px;line-height:16.4px;font-weight:700;transform:scaleX(0.9850);color:#17213b">Criminal</div><div class="tx" style="left:884.40px;top:423.20px;font-size:16.4px;line-height:16.4px;font-weight:700;transform:scaleX(1.0051);color:#17213b">Seccional de</div>
<div class="tx" style="left:887.73px;top:442.00px;font-size:16.4px;line-height:16.4px;font-weight:700;transform:scaleX(1.0166);color:#17213b">Inteligencia</div>
<div class="tx" style="left:906.53px;top:460.70px;font-size:16.4px;line-height:16.4px;font-weight:700;transform:scaleX(0.9689);color:#17213b">Policial</div><div class="tx" style="left:16.73px;top:504.90px;font-size:16.4px;line-height:16.4px;font-weight:700;transform:scaleX(0.9749);color:#17213b">Estación de</div>
<div class="tx" style="left:35.73px;top:523.20px;font-size:16.4px;line-height:16.4px;font-weight:700;transform:scaleX(0.9673);color:#17213b">Policía</div><div class="tx" style="left:167.70px;top:502.80px;font-size:12.3px;line-height:12.3px;font-weight:400;transform:scaleX(0.9455);color:#17213b;-webkit-text-stroke:0.3px #17213b">GUCAR</div>
<div class="tx" style="left:171.86px;top:516.70px;font-size:12.3px;line-height:12.3px;font-weight:400;transform:scaleX(0.8406);color:#17213b;-webkit-text-stroke:0.3px #17213b">FUDIS</div>
<div class="tx" style="left:172.70px;top:531.20px;font-size:12.3px;line-height:12.3px;font-weight:400;transform:scaleX(0.8774);color:#17213b;-webkit-text-stroke:0.3px #17213b">GOES</div>
<div class="tx" style="left:166.76px;top:545.40px;font-size:12.3px;line-height:12.3px;font-weight:400;transform:scaleX(0.9442);color:#17213b;-webkit-text-stroke:0.3px #17213b">EMCAR</div><div class="tx" style="left:18.75px;top:565.80px;font-size:11.8px;line-height:11.8px;font-weight:700;transform:scaleX(1.1721);color:#17213b">Comando de</div>
<div class="tx" style="left:33.30px;top:582.00px;font-size:11.8px;line-height:11.8px;font-weight:700;transform:scaleX(1.1282);color:#17213b">Atención</div>
<div class="tx" style="left:28.50px;top:597.70px;font-size:11.8px;line-height:11.8px;font-weight:700;transform:scaleX(1.1836);color:#17213b">Inmediata</div><div class="tx" style="left:1.70px;top:639.50px;font-size:16.4px;line-height:16.4px;font-weight:700;transform:scaleX(0.9808);color:#17213b">Subestación de</div>
<div class="tx" style="left:36.05px;top:658.30px;font-size:16.4px;line-height:16.4px;font-weight:700;transform:scaleX(0.9484);color:#17213b">Policía</div>
</body></html>
